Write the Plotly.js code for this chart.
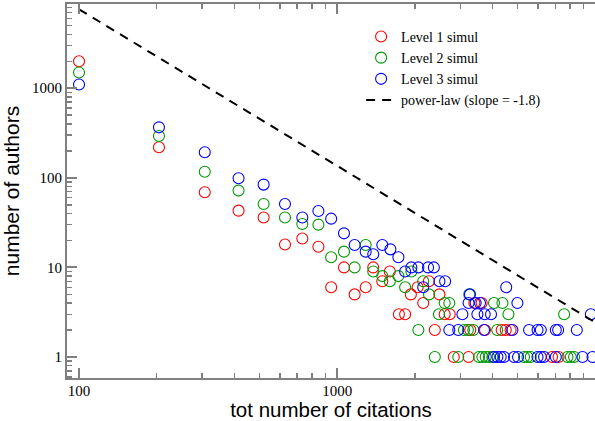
<!DOCTYPE html>
<html>
<head>
<meta charset="utf-8">
<script src="https://cdn.plot.ly/plotly-3.0.1.min.js"></script>
<style>html,body{margin:0;padding:0;background:#fff;}#chart{width:595px;height:421px;}</style>
</head>
<body>
<div id="chart"></div>
<script>
// Level 1 simul (red)
const level1X = [100, 204, 307, 415, 519, 628, 733, 846, 948, 1063, 1169, 1290, 1380, 1496, 1600, 1735, 1834, 1930, 2050, 2155, 2267, 2390, 2490, 2610, 2730, 2830, 3230, 3280, 3400, 3630, 3740, 4340, 4500, 4700, 6800, 7210];
const level1Y = [2000, 219, 69, 43, 36, 18, 21, 17, 6, 10, 5, 6, 10, 7, 9, 3, 3, 5, 6, 4, 7, 2, 5, 3, 3, 1, 1, 2, 4, 4, 2, 2, 2, 2, 1, 1];
// Level 2 simul (green)
const level2X = [100, 204, 307, 415, 519, 628, 733, 846, 948, 1063, 1169, 1290, 1380, 1496, 1600, 1727, 1834, 1939, 2064, 2155, 2270, 2390, 2480, 2610, 2720, 2946, 3100, 3210, 3250, 3370, 3544, 3653, 3763, 3876, 3995, 4053, 4170, 4369, 4609, 5298, 5462, 5626, 7575, 7806, 8040, 8281];
const level2Y = [1500, 293, 117, 72, 51, 36, 30.5, 30, 13, 15, 10, 17.8, 9, 8, 7, 8, 6, 9, 2, 7, 5, 1, 3, 4, 4, 1, 2, 2, 5, 2, 1, 1, 1, 1, 1, 4, 2, 4, 3, 1, 1, 1, 3, 1, 1, 1];
// Level 3 simul (blue)
const level3X = [100, 204, 307, 415, 519, 628, 733, 846, 948, 1063, 1169, 1290, 1380, 1496, 1608, 1727, 1834, 1939, 2064, 2155, 2250, 2370, 2490, 2620, 2720, 2946, 3057, 3230, 3270, 3441, 3576, 3494, 3729, 3946, 3707, 4519, 4993, 4775, 5541, 5975, 6152, 7034, 7181, 8483, 9614, 4053, 4177, 4303, 4432, 4846, 5022, 5975, 6152, 6334, 7034, 8927, 9760];
const level3Y = [1100, 366, 193, 99, 84, 51, 36, 42.6, 35, 24, 17.8, 15, 14, 17.8, 15.9, 13, 9, 10, 10, 6, 10, 10, 7, 7, 2, 2, 3, 4, 5, 4, 4, 3, 3, 3, 2, 6, 4, 2, 2, 2, 2, 2, 2, 2, 3, 1, 1, 1, 1, 1, 1, 1, 1, 1, 1, 1, 1];
// power-law reference line
const powerX = [100, 10000];
const powerY = [7600, 2.43];

const seriesNames = ['Level 1 simul', 'Level 2 simul', 'Level 3 simul', 'power-law (slope = -1.8)'];
const seriesColors = ['#ff0000', '#009a00', '#0000ff', '#000000'];

function markerTrace(x, y, i) {
  return {
    x: x, y: y, type: 'scatter', mode: 'markers', name: seriesNames[i],
    marker: {symbol: 'circle-open', size: 11, color: seriesColors[i], line: {width: 1.1, color: seriesColors[i]}}
  };
}

const data = [
  markerTrace(level1X, level1Y, 0),
  markerTrace(level2X, level2Y, 1),
  markerTrace(level3X, level3Y, 2),
  {x: powerX, y: powerY, type: 'scatter', mode: 'lines', name: seriesNames[3],
   line: {color: seriesColors[3], width: 2, dash: '9px,7px'}}
];

const axisCommon = {
  type: 'log', showgrid: false, zeroline: false, showline: true,
  linecolor: '#808080', linewidth: 2,
  ticks: 'inside', ticklen: 10, tickwidth: 2, tickcolor: '#808080',
  dtick: 1, exponentformat: 'none',
  tickfont: {family: 'Liberation Serif, Times New Roman, serif', size: 15, color: '#000'},
  minor: {ticks: 'inside', ticklen: 5, tickwidth: 1.5, tickcolor: '#808080', dtick: 'D1', showgrid: false}
};

const layout = {
  width: 595, height: 421,
  margin: {l: 67, r: 0, t: 4, b: 43},
  paper_bgcolor: '#fff', plot_bgcolor: '#fff',
  showlegend: true,
  legend: {x: 0.557, y: 0.955, xanchor: 'left', yanchor: 'top', bgcolor: 'rgba(0,0,0,0)',
           font: {family: 'Liberation Serif, Times New Roman, serif', size: 14, color: '#000'}},
  xaxis: Object.assign({}, axisCommon, {
    range: [1.9534, 3.999], mirror: 'ticks', ticklabelstandoff: -2,
    title: {text: 'tot number of citations',
            font: {family: 'Liberation Sans, Arial, sans-serif', size: 20.5, color: '#000'}}
  }),
  yaxis: Object.assign({}, axisCommon, {
    range: [-0.2344, 3.94], mirror: false,
    title: {text: 'number of authors', standoff: 8,
            font: {family: 'Liberation Sans, Arial, sans-serif', size: 21, color: '#000'}}
  })
};

Plotly.newPlot('chart', data, layout, {staticPlot: true, displayModeBar: false});
</script>
</body>
</html>
